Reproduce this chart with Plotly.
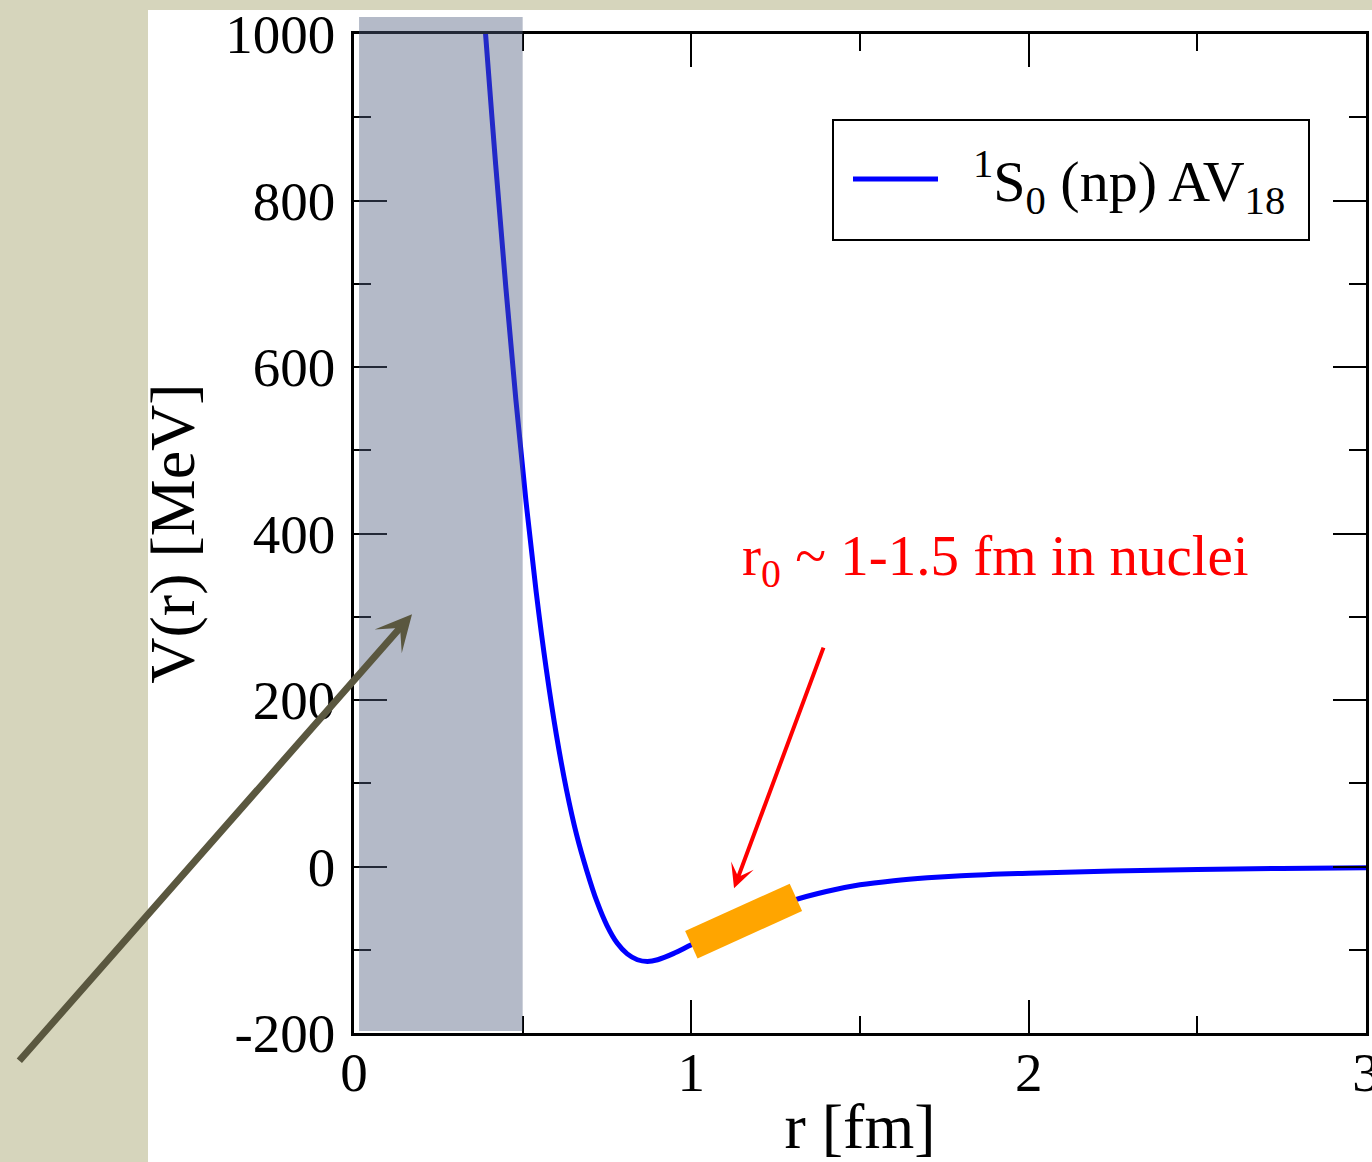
import plotly.graph_objects as go

# 1S0 (np) channel of the AV18 potential, V(r) in MeV versus r in fm
r_fm = [0.38, 0.39, 0.42, 0.45, 0.48, 0.51, 0.54, 0.57, 0.60, 0.63, 0.66, 0.69,
        0.72, 0.75, 0.78, 0.81, 0.84, 0.87, 0.90, 0.95, 1.00, 1.10, 1.20, 1.30,
        1.40, 1.50, 1.60, 1.70, 1.80, 2.00, 2.25, 2.50, 2.75, 3.00]
v_mev = [1055, 1000, 843, 696, 560, 438, 330, 237, 158, 92, 38, -5,
         -42, -71, -92, -105, -112, -114, -112, -104, -94, -75, -57, -41,
         -30, -22, -17, -13.5, -11, -8, -5.5, -3.5, -2.3, -1.5]

# typical internucleon distance in nuclei, highlighted on the curve
r_band = [1.0, 1.31]
v_band = [-94, -37]

# repulsive core region
core_r = [0.015, 0.5]

x_ticks = [0, 1, 2, 3]
y_ticks = [-200, 0, 200, 400, 600, 800, 1000]

W, H = 1372, 1162
ML, MR, MT, MB = 354, 6, 34, 129
PW, PH = W - ML - MR, H - MT - MB

def px_x(p):
    return (p - ML) / PW

def px_y(p):
    return (H - MB - p) / PH

SERIF = "Liberation Serif, Times New Roman, serif"

fig = go.Figure()

fig.add_trace(go.Scatter(
    x=r_fm, y=v_mev, mode="lines",
    line=dict(color="#0000ff", width=5, shape="spline", smoothing=1.0),
    showlegend=False, hoverinfo="skip",
))

fig.add_trace(go.Scatter(
    x=r_band, y=v_band, mode="lines",
    line=dict(color="#ffa500", width=30),
    showlegend=False, hoverinfo="skip",
))

shapes = [
    # textured backdrop strips
    dict(type="rect", xref="paper", yref="paper",
         x0=px_x(0), x1=px_x(148), y0=px_y(H), y1=px_y(0),
         fillcolor="rgb(214,213,188)", line=dict(width=0), layer="below"),
    dict(type="rect", xref="paper", yref="paper",
         x0=px_x(0), x1=px_x(W), y0=px_y(10), y1=px_y(0),
         fillcolor="rgb(214,213,188)", line=dict(width=0), layer="below"),
    # repulsive core band
    dict(type="rect", xref="x", yref="paper",
         x0=core_r[0], x1=core_r[1], y0=0.002, y1=px_y(17),
         fillcolor="rgb(81,95,128)", opacity=0.43, line=dict(width=0),
         layer="above"),
    # legend box
    dict(type="rect", xref="paper", yref="paper",
         x0=px_x(833), x1=px_x(1309), y0=px_y(240), y1=px_y(120),
         fillcolor="white", line=dict(color="black", width=2), layer="above"),
    dict(type="line", xref="paper", yref="paper",
         x0=px_x(853), x1=px_x(938), y0=px_y(179), y1=px_y(179),
         line=dict(color="#0000ff", width=5), layer="above"),
]

annotations = [
    dict(xref="paper", yref="paper", x=px_x(971), y=px_y(182),
         xanchor="left", yanchor="middle", showarrow=False,
         text="<sup>1</sup>S<sub>0</sub> (np) AV<sub>18</sub>",
         font=dict(family=SERIF, size=58, color="black")),
    dict(x=1.144, y=368, xanchor="left", yanchor="middle", showarrow=False,
         text="r<sub>0</sub> ~ 1-1.5 fm in nuclei",
         font=dict(family=SERIF, size=57, color="#ff0000")),
    dict(x=1.1266, y=-26, text="", showarrow=True, ax=90, ay=-242,
         arrowhead=3, arrowsize=1.0, arrowwidth=4, arrowcolor="#ff0000"),
    dict(x=0.172, y=303, text="", showarrow=True, ax=-394, ay=448,
         arrowhead=3, arrowsize=0.86, arrowwidth=7, arrowcolor="#5a573f"),
]

axis_common = dict(
    showline=True, linecolor="black", linewidth=2.5, mirror="allticks",
    ticks="inside", ticklen=33, tickwidth=2, tickcolor="black",
    showgrid=False, zeroline=False, automargin=False,
    ticklabeloverflow="allow",
    tickfont=dict(family=SERIF, size=55, color="black"),
)

fig.update_layout(
    width=W, height=H,
    margin=dict(l=ML, r=MR, t=MT, b=MB),
    paper_bgcolor="white", plot_bgcolor="white",
    shapes=shapes, annotations=annotations,
    showlegend=False,
    xaxis=dict(range=[0, 3], tickvals=x_ticks, ticktext=[str(v) for v in x_ticks],
               minor=dict(dtick=0.5, ticks="inside", ticklen=17, tickwidth=2,
                          tickcolor="black", showgrid=False),
               title=dict(text="r [fm]", standoff=16,
                          font=dict(family=SERIF, size=64, color="black")),
               ticklabelstandoff=-11,
               **axis_common),
    yaxis=dict(range=[-200, 1000], tickvals=y_ticks, ticktext=[str(v) for v in y_ticks],
               minor=dict(dtick=100, ticks="inside", ticklen=17, tickwidth=2,
                          tickcolor="black", showgrid=False),
               title=dict(text="V(r) [MeV]", standoff=10,
                          font=dict(family=SERIF, size=64, color="black")),
               ticklabelstandoff=5,
               **axis_common),
)

fig.write_html("out.html")
